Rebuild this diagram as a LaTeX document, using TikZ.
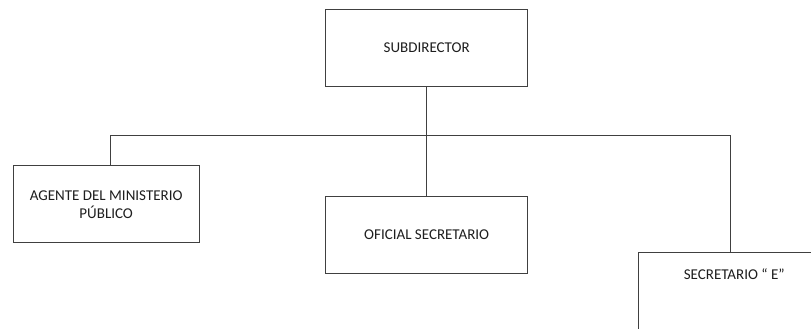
\documentclass[tikz,border=0pt]{standalone}
\usepackage{fontspec}
\setmainfont{Carlito}
\usetikzlibrary{positioning}
\definecolor{OrgLine}{RGB}{64,64,64}
\definecolor{OrgText}{RGB}{30,30,30}

\begin{document}
\begin{tikzpicture}[
  x=1pt, y=-1pt,
  node distance=109pt,
  post/.style={draw=OrgLine, line width=1.1pt, fill=white, text=OrgText,
    font=\fontsize{15}{18}\selectfont, align=center,
    minimum width=202pt, minimum height=77pt},
  link/.style={draw=OrgLine, line width=1pt}
]
\useasboundingbox (0,0) rectangle (811,329);
\clip (0,0) rectangle (811,329);
\node[post] (subdir) at (426.7,48) {SUBDIRECTOR};
\node[post, below=of subdir] (oficial) {OFICIAL SECRETARIO};
\node[post, minimum width=186pt] (agente) at (106.2,204.4) {AGENTE DEL MINISTERIO\\PÚBLICO};
\node[post, anchor=north west, minimum width=192pt, minimum height=0pt,
  inner ysep=0pt, text height=27pt, text depth=60pt] (secre) at (637.7,251.7) {SECRETARIO “ E”};
\coordinate (busL) at (110,135);
\coordinate (busR) at (730,135);
\draw[link] (busL) -- (busR);
\draw[link] (subdir) -- (oficial);
\draw[link] (busL) -- (busL |- agente.north);
\draw[link] (busR) -- (busR |- secre.north);
\end{tikzpicture}
\end{document}
